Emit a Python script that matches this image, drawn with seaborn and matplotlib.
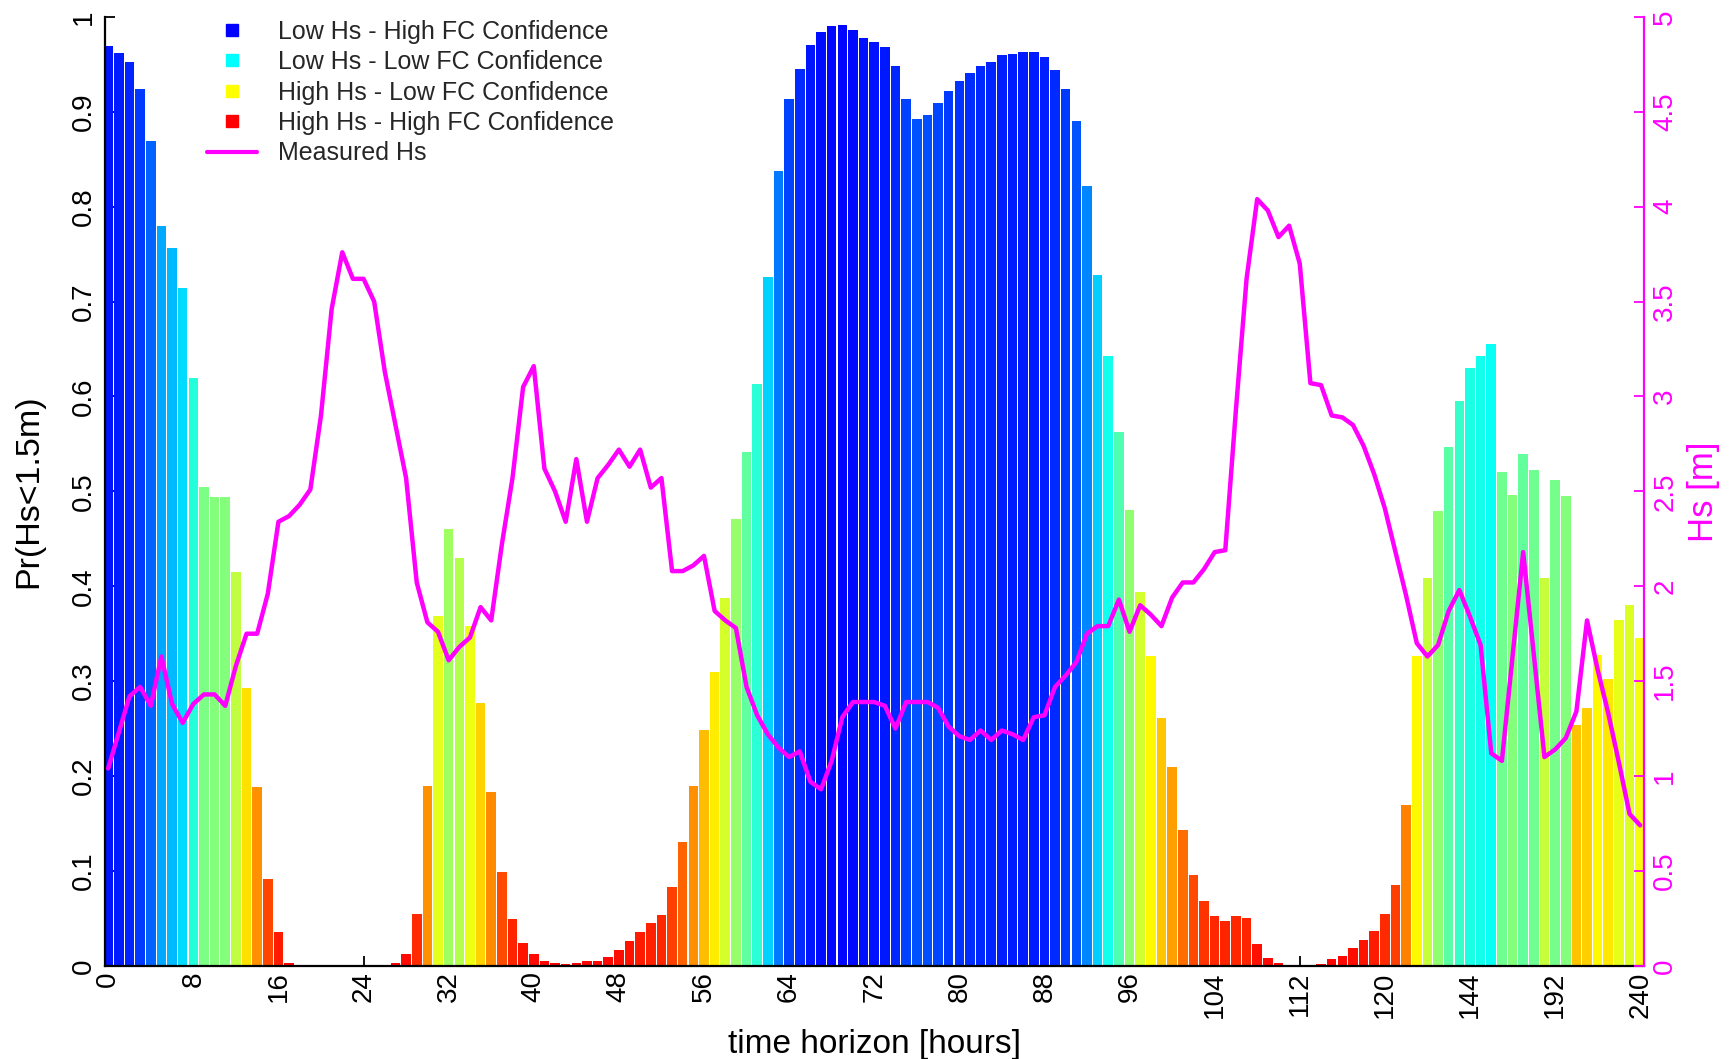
import numpy as np
import pandas as pd
import matplotlib
matplotlib.use("Agg")
import matplotlib.pyplot as plt
import seaborn as sns
from matplotlib.colors import LinearSegmentedColormap
from matplotlib.lines import Line2D

# ---------------- data ----------------
prob = [0.969, 0.962, 0.953, 0.924, 0.869, 0.780, 0.756, 0.714, 0.620, 0.505,
        0.494, 0.494, 0.415, 0.293, 0.188, 0.091, 0.036, 0.003, 0.0, 0.0,
        0.0, 0.0, 0.0, 0.0, 0.0, 0.0, 0.0, 0.003, 0.012, 0.055,
        0.190, 0.369, 0.460, 0.430, 0.358, 0.277, 0.183, 0.099, 0.049, 0.024,
        0.012, 0.005, 0.003, 0.002, 0.003, 0.005, 0.005, 0.009, 0.017, 0.026,
        0.036, 0.045, 0.054, 0.083, 0.130, 0.190, 0.249, 0.310, 0.388, 0.471,
        0.542, 0.613, 0.726, 0.838, 0.914, 0.945, 0.970, 0.984, 0.990, 0.992,
        0.986, 0.978, 0.974, 0.968, 0.948, 0.913, 0.892, 0.897, 0.909, 0.922,
        0.933, 0.941, 0.948, 0.953, 0.960, 0.961, 0.963, 0.963, 0.958, 0.944,
        0.924, 0.890, 0.822, 0.728, 0.643, 0.563, 0.480, 0.394, 0.327, 0.261,
        0.210, 0.143, 0.096, 0.068, 0.052, 0.047, 0.052, 0.050, 0.023, 0.008,
        0.003, 0.001, 0.001, 0.001, 0.002, 0.007, 0.010, 0.019, 0.027, 0.037,
        0.055, 0.085, 0.169, 0.327, 0.409, 0.479, 0.547, 0.595, 0.630, 0.643,
        0.655, 0.520, 0.496, 0.539, 0.523, 0.409, 0.512, 0.495, 0.254, 0.272,
        0.328, 0.302, 0.364, 0.380, 0.345]

hs = [1.04, 1.23, 1.42, 1.47, 1.37, 1.63, 1.38, 1.28, 1.38, 1.43,
      1.43, 1.37, 1.58, 1.75, 1.75, 1.96, 2.34, 2.37, 2.43, 2.51,
      2.90, 3.46, 3.76, 3.62, 3.62, 3.50, 3.13, 2.85, 2.57, 2.02,
      1.81, 1.76, 1.61, 1.68, 1.73, 1.89, 1.82, 2.22, 2.57, 3.05,
      3.16, 2.62, 2.50, 2.34, 2.67, 2.34, 2.57, 2.64, 2.72, 2.63,
      2.72, 2.52, 2.57, 2.08, 2.08, 2.11, 2.16, 1.87, 1.82, 1.78,
      1.47, 1.32, 1.22, 1.15, 1.10, 1.13, 0.97, 0.93, 1.08, 1.31,
      1.39, 1.39, 1.39, 1.37, 1.25, 1.39, 1.39, 1.39, 1.36, 1.26,
      1.21, 1.19, 1.24, 1.19, 1.24, 1.22, 1.19, 1.31, 1.32, 1.47,
      1.53, 1.60, 1.75, 1.79, 1.79, 1.93, 1.76, 1.90, 1.85, 1.79,
      1.94, 2.02, 2.02, 2.09, 2.18, 2.19, 2.93, 3.62, 4.04, 3.98,
      3.84, 3.90, 3.70, 3.07, 3.06, 2.90, 2.89, 2.85, 2.74, 2.59,
      2.41, 2.18, 1.95, 1.70, 1.63, 1.69, 1.87, 1.98, 1.84, 1.69,
      1.12, 1.08, 1.63, 2.18, 1.64, 1.10, 1.14, 1.20, 1.34, 1.82,
      1.56, 1.33, 1.07, 0.80, 0.74]

x_tick_labels = ['0', '8', '16', '24', '32', '40', '48', '56', '64', '72',
                 '80', '88', '96', '104', '112', '120', '144', '192', '240']
left_tick_labels = ['0', '0.1', '0.2', '0.3', '0.4', '0.5', '0.6', '0.7', '0.8', '0.9', '1']
right_tick_labels = ['0', '0.5', '1', '1.5', '2', '2.5', '3', '3.5', '4', '4.5', '5']
legend_labels = ['Low Hs - High FC Confidence', 'Low Hs - Low FC Confidence',
                 'High Hs - Low FC Confidence', 'High Hs - High FC Confidence',
                 'Measured Hs']
legend_colors = ['#0000ff', '#00ffff', '#ffff00', '#ff0000']
MAGENTA = '#ff00ff'

# ---------------- style ----------------
sns.set_theme(style='white')
plt.rcParams['font.family'] = ['Liberation Sans', 'DejaVu Sans']

cmap = LinearSegmentedColormap.from_list('conf', ['#ff0000', '#ffff00', '#00ffff', '#0000ff'])
idx = np.arange(len(prob))
keys = [f'b{i}' for i in idx]
df = pd.DataFrame({'step': idx, 'prob': prob, 'key': keys})
palette = {k: cmap(p) for k, p in zip(keys, prob)}

fig = plt.figure(figsize=(17.33, 10.59), dpi=100)
ax = fig.add_axes([0.0606, 0.088, 0.888, 0.896])

sns.barplot(data=df, x='step', y='prob', hue='key', palette=palette, legend=False,
            width=0.9, linewidth=0, saturation=1, errorbar=None, dodge=False, ax=ax)

ax2 = ax.twinx()
sns.lineplot(x=idx, y=hs, ax=ax2, color=MAGENTA, linewidth=3.2)

ax.set_xlim(-0.3, 144.35)
ax.set_ylim(0, 1)
ax2.set_ylim(0, 5)

TICK_FS = 20
ax.set_xticks(idx[::8])
ax.set_xticklabels(x_tick_labels, rotation=90, va='top', ha='center')
ax.set_yticks(np.linspace(0, 1, 11))
ax.set_yticklabels(left_tick_labels, rotation=90, va='center', ha='right')
ax2.set_yticks(np.linspace(0, 5, 11))
ax2.set_yticklabels(right_tick_labels, rotation=90, va='center', ha='left')

ax.tick_params(axis='x', direction='in', length=7.5, width=1.3, labelsize=TICK_FS, pad=4,
               colors='black', bottom=True)
ax.tick_params(axis='y', direction='in', length=7.5, width=1.3, labelsize=TICK_FS, pad=6,
               colors='black', left=True)
ax2.tick_params(axis='y', direction='in', length=7.5, width=1.3, labelsize=TICK_FS, pad=6,
                colors=MAGENTA, right=True)

for s in ['top', 'right']:
    ax.spines[s].set_visible(False)
for s in ['top', 'left', 'bottom']:
    ax2.spines[s].set_visible(False)
for s in ['left', 'bottom']:
    ax.spines[s].set_color('black')
    ax.spines[s].set_linewidth(1.6)
ax2.spines['right'].set_color(MAGENTA)
ax2.spines['right'].set_linewidth(1.6)

ax.set_xlabel('time horizon [hours]', fontsize=24, labelpad=8, color='black')
ax.set_ylabel('Pr(Hs<1.5m)', fontsize=24.5, labelpad=19, color='black')
ax2.set_ylabel('Hs [m]', fontsize=25, labelpad=6, color=MAGENTA)

handles = [Line2D([0], [0], marker='s', linestyle='none', markerfacecolor=c,
                  markeredgecolor=c, markersize=8) for c in legend_colors]
handles.append(Line2D([0], [0], color=MAGENTA, linewidth=3))
ax2.legend(handles, legend_labels, loc='upper left', bbox_to_anchor=(0.066, 0.997),
           frameon=False, fontsize=18, handlelength=2.0, handletextpad=0.85,
           labelspacing=0.255, borderpad=0, borderaxespad=0)

fig.savefig('out.png', dpi=100)
